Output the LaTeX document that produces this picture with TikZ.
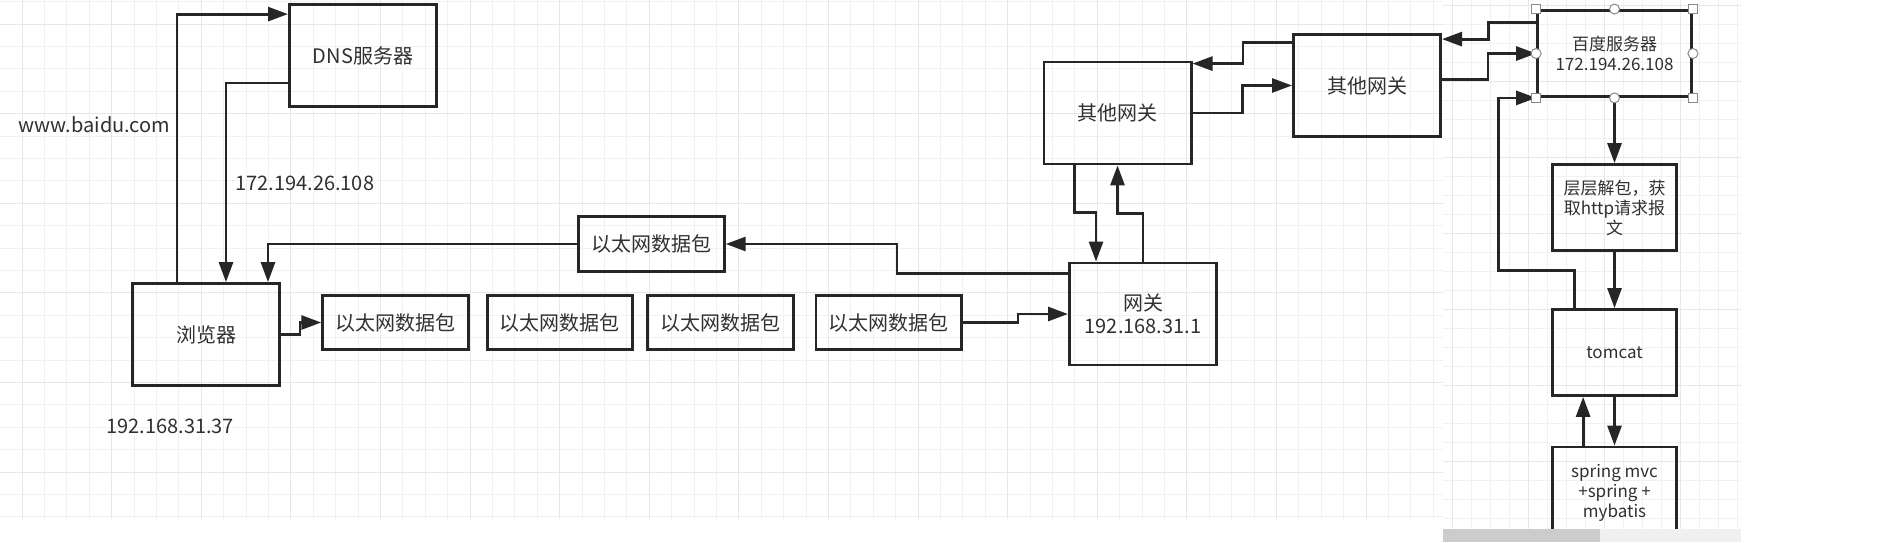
\documentclass[tikz,border=0pt]{standalone}
\usepackage{fontspec}
\newfontfamily\cjk{Noto Sans CJK SC}
\usepackage{xcolor}
\usepackage{tikz}
\usetikzlibrary{arrows.meta,calc,positioning}
\definecolor{inkc}{HTML}{262626}
\definecolor{txtc}{HTML}{303030}
\definecolor{gridc}{HTML}{F1F1F1}
\definecolor{gridm}{HTML}{E7E7E7}
\definecolor{handc}{HTML}{8A8A8A}

\begin{document}
\begin{tikzpicture}[x=0.5pt,y=-0.5pt,line width=1.4pt,
    bigbox/.style={draw=inkc,text=txtc,minimum width=73.6pt,minimum height=51pt,inner sep=0pt,align=center,font=\cjk\fontsize{10}{11.5}\selectfont},
    pktbox/.style={draw=inkc,text=txtc,minimum width=72.8pt,minimum height=27.2pt,inner sep=0pt,font=\cjk\fontsize{10}{11.5}\selectfont},
    srvbox/.style={draw=inkc,text=txtc,minimum width=62pt,minimum height=43pt,inner sep=0pt,align=center,font=\cjk\fontsize{8.5}{10}\selectfont},
    lbl/.style={text=txtc,inner sep=0pt,anchor=west,font=\cjk\fontsize{10}{11.5}\selectfont},
    arr/.style={draw=inkc,-{Triangle[length=10pt,width=7pt]}},
    gridline/.style={draw=gridc,line width=0.5pt},
    gridmajor/.style={draw=gridm,line width=0.5pt},
    hsq/.style={draw=handc,fill=white,line width=0.5pt,minimum size=4.5pt,inner sep=0pt},
    hdot/.style={circle,draw=handc,fill=white,line width=0.5pt,minimum size=5pt,inner sep=0pt}]
  \useasboundingbox (0,0) rectangle (1904,542);

  % background grid, left pane
  \begin{scope}
    \clip (0,0) rectangle (1443,519);
    \foreach \gx in {0,...,64} \draw[gridline] ({22+22.4*\gx},0) -- ++(0,519);
    \foreach \gy in {0,...,23} \draw[gridline] (0,{1.6+22.4*\gy}) -- ++(1443,0);
    \foreach \gx in {0,...,16} \draw[gridmajor] ({22+89.6*\gx},0) -- ++(0,519);
    \foreach \gy in {0,...,5} \draw[gridmajor] (0,{24+89.6*\gy}) -- ++(1443,0);
  \end{scope}
  % background grid, right pane
  \begin{scope}
    \clip (1443,0) rectangle (1741,529);
    \foreach \gx in {0,...,16} \draw[gridline] ({1452+19*\gx},0) -- ++(0,529);
    \foreach \gy in {0,...,28} \draw[gridline] (1443,{5+19*\gy}) -- ++(298,0);
    \foreach \gx in {0,...,4} \draw[gridmajor] ({1452+76*\gx},0) -- ++(0,529);
    \foreach \gy in {0,...,7} \draw[gridmajor] (1443,{5+76*\gy}) -- ++(298,0);
  \end{scope}

  % boxes
  \node[bigbox] (dns) at (363,55.5) {DNS服务器};
  \node[bigbox] (browser) at (206,334.5) {浏览器};
  \node[pktbox] (pkt1) at (395.5,322.5) {以太网数据包};
  \node[pktbox,right=8pt of pkt1] (pkt2) {以太网数据包};
  \node[pktbox,right=6pt of pkt2] (pkt3) {以太网数据包};
  \node[pktbox,right=10pt of pkt3] (pkt4) {以太网数据包};
  \node[pktbox] (pktback) at (651.5,244) {以太网数据包};
  \node[bigbox] (gw) at (1143,314) {网关\\192.168.31.1};
  \node[bigbox] (og1) at (1117.5,113) {其他网关};
  \node[bigbox] (og2) at (1367,85.5) {其他网关};
  \node[srvbox,minimum width=77pt] (baidu) at (1614.5,53.5) {百度服务器\\172.194.26.108};
  \node[srvbox] (unpack) at (1614.5,207.5) {层层解包，获\\取http请求报\\文};
  \node[srvbox] (tomcat) at (1614.5,352.5) {tomcat};
  \node[srvbox,minimum height=46pt] (spring) at (1614.5,493) {spring mvc\\+spring +\\mybatis};

  % free labels
  \node[lbl] (url) at (17,125) {www.baidu.com};
  \node[lbl] (dnsip) at (234,183) {172.194.26.108};
  \node[lbl] (browserip) at (105,426) {192.168.31.37};

  % browser <-> dns
  \draw[arr] ($(browser.north west)+(46,0)$) |- ($(dns.north west)+(0,11)$);
  \draw[arr] ($(dns.south west)+(0,-25)$) -| ($(browser.north west)+(95,0)$);
  % packets out and back
  \draw[arr] (browser.east) -- ++(19,0) |- (pkt1.west);
  \draw[arr] (pkt4.east) -- ++(55,0) |- (gw.west);
  \draw[arr] ($(gw.north west)+(0,12)$) -- ++(-171,0) |- (pktback.east);
  \draw[arr] (pktback.west) -| ($(browser.north west)+(137,0)$);
  % gateways
  \draw[arr] ($(og1.south west)+(32,0)$) -- ++(0,47) -| ($(gw.north west)+(28,0)$);
  \draw[arr] (gw.north) -- ++(0,-48) -| (og1.south);
  \draw[arr] ($(og2.north west)+(0,9)$) -- ++(-49,0) |- ($(og1.north east)+(0,3)$);
  \draw[arr] (og1.east) -- ++(50,0) |- (og2.west);
  \draw[arr] ($(baidu.north west)+(0,13)$) -- ++(-48,0) |- ($(og2.north east)+(0,6)$);
  \draw[arr] ($(og2.north east)+(0,46)$) -- ++(46,0) |- (baidu.west);
  % server side
  \draw[arr] (baidu.south) -- (unpack.north);
  \draw[arr] (unpack.south) -- (tomcat.north);
  \draw[arr] ($(tomcat.north west)+(23,0)$) |- ++(-76,-38) |- (baidu.south west);
  \draw[arr] (tomcat.south) -- (spring.north);
  \draw[arr] ($(spring.north west)+(32,0)$) -- ($(tomcat.south west)+(32,0)$);

  % selection handles
  \foreach \a/\n in {north west/hnw,north east/hne,south west/hsw,south east/hse}
    \node[hsq] (\n) at (baidu.\a) {};
  \foreach \a/\n in {north/hn,south/hs,west/hw,east/he}
    \node[hdot] (\n) at (baidu.\a) {};

  % scrollbar
  \fill[gray!40] (1443,529) rectangle (1600,542);
  \fill[gray!12] (1600,529) rectangle (1741,542);
\end{tikzpicture}
\end{document}
